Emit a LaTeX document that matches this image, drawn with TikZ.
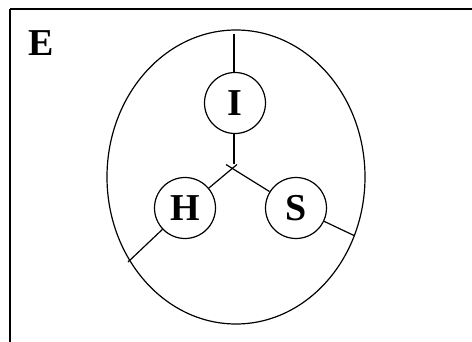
\documentclass[tikz,border=0pt]{standalone}
\usepackage{fontspec}
\setmainfont{Liberation Serif}
\usetikzlibrary{shapes.geometric}
\begin{document}
\begin{tikzpicture}[x=1pt,y=-1pt,
  frame/.style={line width=2pt},
  outline/.style={line width=1.2pt},
  wire/.style={line width=1.2pt},
  part/.style={circle,draw,line width=1.2pt,minimum size=61pt,inner sep=0pt,font=\fontsize{38}{38}\selectfont\bfseries},
  lbl/.style={font=\fontsize{38}{38}\selectfont\bfseries,inner sep=0pt}]
\useasboundingbox (0,0) rectangle (472,342);
\fill[white] (0,0) rectangle (472,342);
\draw[frame] (9.5,9) -- (480,9);
\draw[frame] (9.5,9) -- (9.5,350);
\node[lbl] (E) at (41,43) {E};
\node[ellipse,draw,outline,minimum width=258pt,minimum height=294pt,inner sep=0pt] (env) at (236,177) {};
\node[part] (I) at (235,103) {I};
\node[part] (H) at (185,208) {H};
\node[part] (S) at (296,208) {S};
\coordinate (itop) at (234,34);
\coordinate (iend) at (234,164);
\coordinate (hend) at (237,164.5);
\coordinate (send) at (226,164.5);
\coordinate (htail) at (128,262);
\coordinate (stail) at (354,235.5);
\draw[wire] (itop) -- (itop |- I.north);
\draw[wire] (iend |- I.south) -- (iend);
\draw[wire] (H) -- (hend);
\draw[wire] (S) -- (send);
\draw[wire] (H) -- (htail);
\draw[wire] (S) -- (stail);
\end{tikzpicture}
\end{document}
